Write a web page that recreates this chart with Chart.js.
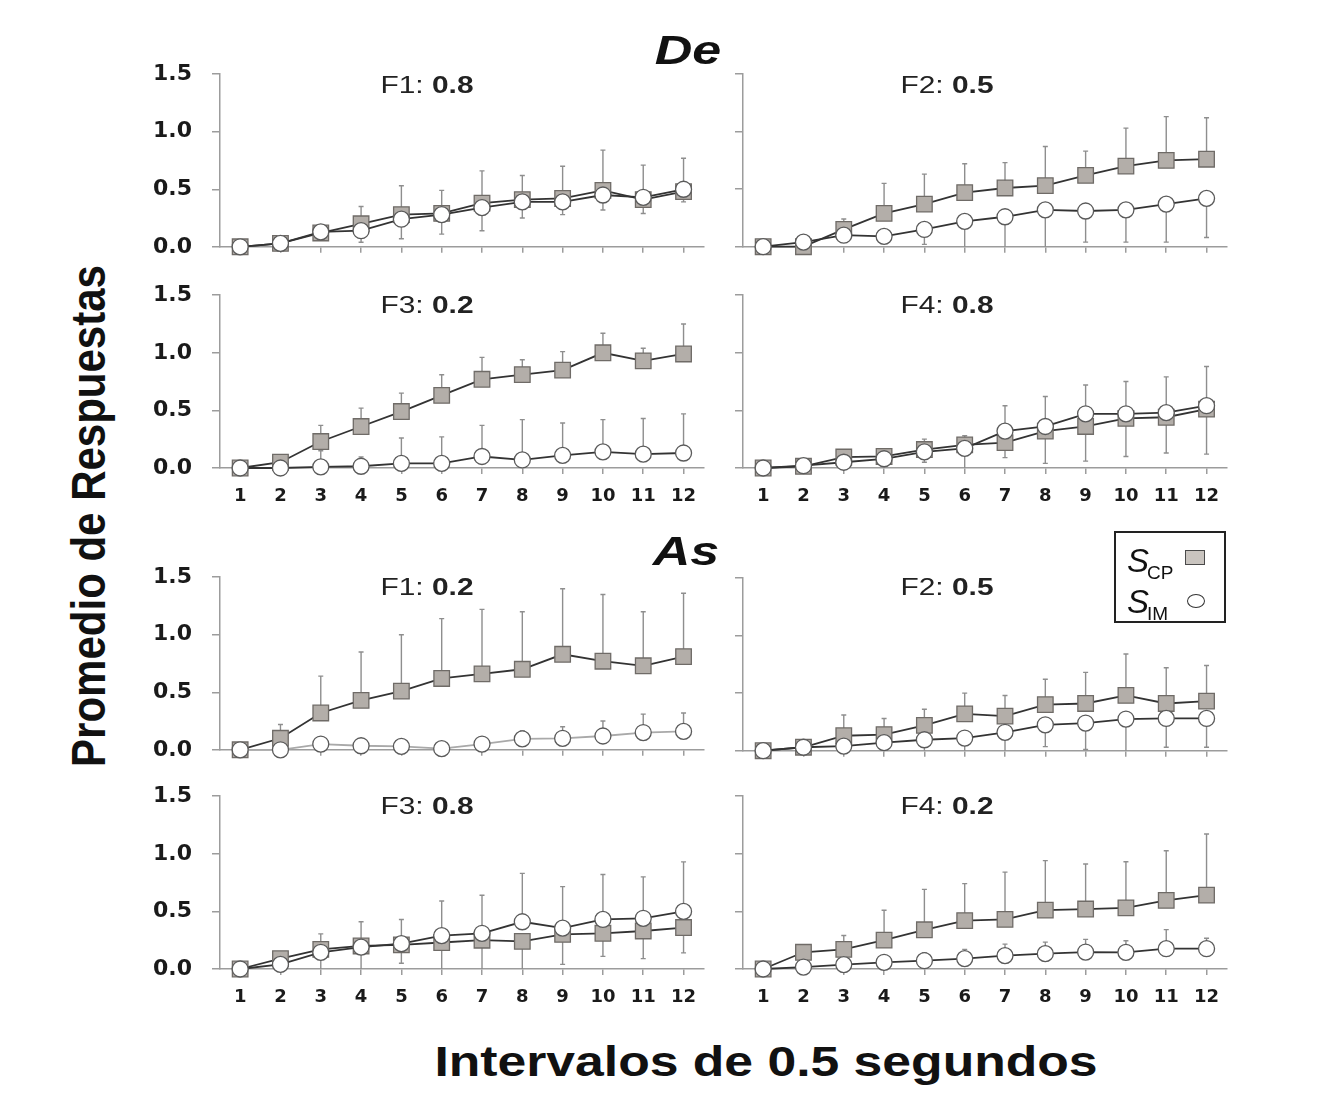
<!DOCTYPE html>
<html><head><meta charset="utf-8">
<script src="https://cdn.jsdelivr.net/npm/chart.js@4.4.1/dist/chart.umd.min.js"></script>
<style>
html,body{margin:0;padding:0;background:#fff;}
body{width:1320px;height:1109px;position:relative;overflow:hidden;font-family:"Liberation Sans",Arial,sans-serif;color:#1a1a1a;}
.pc{position:absolute;}
.txt{position:absolute;white-space:nowrap;line-height:1;}
.ptitle{font-size:23px;color:#222;}
.ptitle b{font-weight:bold;}
.grp{font-size:41px;font-weight:bold;font-style:italic;color:#111;}
.axt{font-size:42px;font-weight:bold;color:#111;}
#legend{position:absolute;left:1114px;top:531px;width:108px;height:88px;border:2px solid #222;background:#fff;}
.lgS{position:absolute;font-size:33px;font-style:italic;line-height:1;color:#111;}
.lgSub{position:absolute;font-size:19px;line-height:1;color:#111;}
</style></head><body>
<div id="root"></div>
<script>
// ---------- data ----------
const categories = ['1','2','3','4','5','6','7','8','9','10','11','12'];
const yTickValues = [0, 0.5, 1.0, 1.5];
const yTickLabels = ['0.0', '0.5', '1.0', '1.5'];
const groupTitles = ['De', 'As'];
const legendLabels = ['CP', 'IM'];

const deF1_title = ['F1:', '0.8'];
const deF1_scp    = [0, 0.03, 0.12, 0.20, 0.28, 0.29, 0.38, 0.41, 0.42, 0.49, 0.41, 0.48];
const deF1_scpErr = [0, 0, 0.03, 0.15, 0.25, 0.20, 0.28, 0.21, 0.28, 0.35, 0.30, 0.29];
const deF1_sim    = [0, 0.03, 0.13, 0.14, 0.24, 0.28, 0.34, 0.39, 0.39, 0.45, 0.43, 0.50];
const deF1_simErr = [0, 0, 0.03, 0.10, 0.17, 0.17, 0.20, 0.14, 0.11, 0.13, 0.14, 0.11];

const deF2_title = ['F2:', '0.5'];
const deF2_scp    = [0, 0, 0.15, 0.29, 0.37, 0.47, 0.51, 0.53, 0.62, 0.70, 0.75, 0.76];
const deF2_scpErr = [0, 0, 0.09, 0.26, 0.26, 0.25, 0.22, 0.34, 0.21, 0.33, 0.38, 0.36];
const deF2_sim    = [0, 0.04, 0.10, 0.09, 0.15, 0.22, 0.26, 0.32, 0.31, 0.32, 0.37, 0.42];
const deF2_simErr = [0, 0, 0.03, 0.05, 0.13, 0.22, 0.26, 0.32, 0.27, 0.28, 0.33, 0.34];

const deF3_title = ['F3:', '0.2'];
const deF3_scp    = [0, 0.05, 0.23, 0.36, 0.49, 0.63, 0.77, 0.81, 0.85, 1.00, 0.93, 0.99];
const deF3_scpErr = [0, 0, 0.14, 0.16, 0.16, 0.18, 0.19, 0.13, 0.16, 0.17, 0.11, 0.26];
const deF3_sim    = [0, 0, 0.01, 0.015, 0.04, 0.04, 0.10, 0.07, 0.11, 0.14, 0.12, 0.13];
const deF3_simErr = [0, 0, 0.14, 0.08, 0.22, 0.23, 0.27, 0.35, 0.28, 0.28, 0.31, 0.34];

const deF4_title = ['F4:', '0.8'];
const deF4_scp    = [0, 0.015, 0.095, 0.10, 0.16, 0.20, 0.22, 0.32, 0.36, 0.43, 0.44, 0.51];
const deF4_scpErr = [0, 0, 0, 0.03, 0.11, 0.20, 0.13, 0.28, 0.30, 0.33, 0.31, 0.39];
const deF4_sim    = [0, 0.02, 0.05, 0.08, 0.14, 0.17, 0.32, 0.36, 0.47, 0.47, 0.48, 0.54];
const deF4_simErr = [0, 0, 0, 0.03, 0.11, 0.11, 0.22, 0.26, 0.25, 0.28, 0.31, 0.34];

const asF1_title = ['F1:', '0.2'];
const asF1_scp    = [0, 0.10, 0.32, 0.43, 0.51, 0.62, 0.66, 0.70, 0.83, 0.77, 0.73, 0.81];
const asF1_scpErr = [0, 0.12, 0.32, 0.42, 0.49, 0.52, 0.56, 0.50, 0.57, 0.58, 0.47, 0.55];
const asF1_sim    = [0, 0, 0.05, 0.035, 0.03, 0.01, 0.05, 0.095, 0.10, 0.12, 0.15, 0.16];
const asF1_simErr = [0, 0, 0, 0, 0, 0, 0, 0.07, 0.10, 0.13, 0.16, 0.16];

const asF2_title = ['F2:', '0.5'];
const asF2_scp    = [0, 0.03, 0.13, 0.14, 0.22, 0.32, 0.30, 0.40, 0.41, 0.48, 0.41, 0.43];
const asF2_scpErr = [0, 0, 0.18, 0.14, 0.14, 0.18, 0.18, 0.22, 0.27, 0.36, 0.31, 0.31];
const asF2_sim    = [0, 0.03, 0.04, 0.07, 0.095, 0.11, 0.16, 0.225, 0.24, 0.275, 0.28, 0.28];
const asF2_simErr = [0, 0, 0.05, 0.08, 0.10, 0.11, 0.16, 0.19, 0.23, 0.28, 0.25, 0.25];

const asF3_title = ['F3:', '0.8'];
const asF3_scp    = [0, 0.09, 0.17, 0.20, 0.21, 0.23, 0.25, 0.24, 0.30, 0.31, 0.33, 0.36];
const asF3_scpErr = [0, 0, 0.17, 0.20, 0.16, 0.24, 0.25, 0.24, 0.26, 0.20, 0.24, 0.22];
const asF3_sim    = [0, 0.04, 0.145, 0.19, 0.22, 0.29, 0.31, 0.41, 0.355, 0.43, 0.44, 0.50];
const asF3_simErr = [0, 0, 0.16, 0.22, 0.21, 0.30, 0.33, 0.42, 0.36, 0.39, 0.36, 0.43];

const asF4_title = ['F4:', '0.2'];
const asF4_scp    = [0, 0.145, 0.17, 0.25, 0.34, 0.42, 0.43, 0.51, 0.52, 0.53, 0.595, 0.64];
const asF4_scpErr = [0, 0.065, 0.12, 0.26, 0.35, 0.32, 0.41, 0.43, 0.39, 0.40, 0.43, 0.53];
const asF4_sim    = [0, 0.017, 0.038, 0.058, 0.072, 0.09, 0.116, 0.133, 0.147, 0.145, 0.176, 0.176];
const asF4_simErr = [0, 0, 0, 0, 0.07, 0.08, 0.10, 0.10, 0.11, 0.10, 0.165, 0.09];

// error-bar direction per panel (+1 = up, -1 = down)
const panels = [
  {row:0, col:0, title:deF1_title, scp:deF1_scp, scpErr:deF1_scpErr, sim:deF1_sim, simErr:deF1_simErr, scpDir:1, simDir:-1},
  {row:0, col:1, title:deF2_title, scp:deF2_scp, scpErr:deF2_scpErr, sim:deF2_sim, simErr:deF2_simErr, scpDir:1, simDir:-1},
  {row:1, col:0, title:deF3_title, scp:deF3_scp, scpErr:deF3_scpErr, sim:deF3_sim, simErr:deF3_simErr, scpDir:1, simDir:1},
  {row:1, col:1, title:deF4_title, scp:deF4_scp, scpErr:deF4_scpErr, sim:deF4_sim, simErr:deF4_simErr, scpDir:-1, simDir:1},
  {row:2, col:0, title:asF1_title, scp:asF1_scp, scpErr:asF1_scpErr, sim:asF1_sim, simErr:asF1_simErr, scpDir:1, simDir:1, simLight:true},
  {row:2, col:1, title:asF2_title, scp:asF2_scp, scpErr:asF2_scpErr, sim:asF2_sim, simErr:asF2_simErr, scpDir:1, simDir:-1},
  {row:3, col:0, title:asF3_title, scp:asF3_scp, scpErr:asF3_scpErr, sim:asF3_sim, simErr:asF3_simErr, scpDir:-1, simDir:1},
  {row:3, col:1, title:asF4_title, scp:asF4_scp, scpErr:asF4_scpErr, sim:asF4_sim, simErr:asF4_simErr, scpDir:1, simDir:1}
];

// ---------- layout ----------
const axisX = [220, 743];
const rowTop = [74, 295, 577.5, 796];
const plotW = 484, plotH = 173;
const titleCX = [427, 947];
const titleCY = [85, 305, 587, 806];
const AXIS_COLOR = '#9c9c9c';
const TICK_FONT = 'DejaVu Sans';

const errPlugin = {
  id: 'errbars',
  beforeDatasetsDraw(chart) {
    const ctx = chart.ctx, ys = chart.scales.y;
    chart.data.datasets.forEach((ds, i) => {
      const meta = chart.getDatasetMeta(i);
      ds.err.forEach((e, j) => {
        if (!e) return;
        const pt = meta.data[j];
        const v = ds.data[j];
        let end = v + ds.errDir * e;
        end = Math.max(0, Math.min(1.5, end));
        const y0 = ys.getPixelForValue(v), y1 = ys.getPixelForValue(end);
        ctx.save();
        ctx.strokeStyle = '#8e8e8e';
        ctx.lineWidth = 1.4;
        ctx.beginPath();
        ctx.moveTo(pt.x, y0); ctx.lineTo(pt.x, y1);
        if (end > 0) { ctx.moveTo(pt.x - 2.5, y1); ctx.lineTo(pt.x + 2.5, y1); }
        ctx.stroke();
        ctx.restore();
      });
    });
  }
};

const root = document.getElementById('root');

function makePanel(p) {
  const showX = (p.row === 1 || p.row === 3);
  const showY = (p.col === 0);
  const yw = showY ? 80 : 20;
  const padTop = 16, padRight = 12;
  const xh = showX ? 46 : 12;
  let W = yw + plotW + padRight;
  let H = padTop + plotH + xh;
  const div = document.createElement('div');
  div.className = 'pc';
  div.style.left = (axisX[p.col] - yw) + 'px';
  div.style.top = (rowTop[p.row] - padTop) + 'px';
  const cv = document.createElement('canvas');
  cv.width = W; cv.height = H;
  cv.style.width = W + 'px'; cv.style.height = H + 'px';
  div.appendChild(cv);
  root.appendChild(div);

  const chart = new Chart(cv, {
    type: 'line',
    data: {
      labels: categories,
      datasets: [
        {
          label: 'SIM', data: p.sim, err: p.simErr, errDir: p.simDir,
          borderColor: p.simLight ? '#a9a9a9' : '#333333', borderWidth: 1.8,
          pointStyle: 'circle', pointRadius: 8, pointHoverRadius: 8,
          pointBackgroundColor: '#ffffff', pointBorderColor: '#5a5a5a', pointBorderWidth: 1.3,
          clip: false, tension: 0, fill: false
        },
        {
          label: 'SCP', data: p.scp, err: p.scpErr, errDir: p.scpDir,
          borderColor: '#333333', borderWidth: 1.8,
          pointStyle: 'rect', pointRadius: 11, pointHoverRadius: 11,
          pointBackgroundColor: '#b3aea9', pointBorderColor: '#6f6b67', pointBorderWidth: 1.3,
          clip: false, tension: 0, fill: false
        }
      ]
    },
    options: {
      responsive: false, maintainAspectRatio: false, animation: false, devicePixelRatio: 1,
      events: [],
      layout: { padding: { top: padTop, right: padRight, left: 0, bottom: 0 } },
      plugins: { legend: { display: false }, tooltip: { enabled: false }, title: { display: false } },
      scales: {
        x: {
          type: 'category', offset: true,
          grid: { display: true, drawOnChartArea: false, drawTicks: true, tickLength: 6, color: AXIS_COLOR, lineWidth: 1.5 },
          border: { display: true, color: AXIS_COLOR, width: 1.5 },
          ticks: { display: showX, autoSkip: false, maxRotation: 0, padding: 12, color: '#1a1a1a',
                   font: { family: TICK_FONT, size: 18, weight: 'bold' } },
          afterFit(s) { s.height = xh; }
        },
        y: {
          min: 0, max: 1.5,
          afterBuildTicks(s) { s.ticks = yTickValues.map(v => ({ value: v })); },
          grid: { display: true, drawOnChartArea: false, drawTicks: true, tickLength: 8, color: AXIS_COLOR, lineWidth: 1.5 },
          border: { display: true, color: AXIS_COLOR, width: 1.5 },
          ticks: { display: showY, padding: 20, color: '#1a1a1a',
                   font: { family: TICK_FONT, size: 22, weight: 'bold' },
                   callback: (v, i) => yTickLabels[i] },
          afterFit(s) { s.width = yw; }
        }
      }
    },
    plugins: [errPlugin]
  });

  // make the plot area exactly plotW x plotH, then align it
  for (let k = 0; k < 4; k++) {
    const ca = chart.chartArea;
    const dw = plotW - (ca.right - ca.left);
    const dh = plotH - (ca.bottom - ca.top);
    if (Math.abs(dw) < 0.5 && Math.abs(dh) < 0.5) break;
    W = Math.round(W + dw); H = Math.round(H + dh);
    chart.resize(W, H);
  }
  const ca = chart.chartArea;
  div.style.left = (axisX[p.col] - ca.left) + 'px';
  div.style.top = (rowTop[p.row] - ca.top) + 'px';

  // panel title
  const t = document.createElement('div');
  t.className = 'txt ptitle';
  t.innerHTML = p.title[0] + ' <b>' + p.title[1] + '</b>';
  t.style.left = titleCX[p.col] + 'px';
  t.style.top = titleCY[p.row] + 'px';
  t.style.transform = 'translate(-50%,-50%) scaleX(1.3)';
  root.appendChild(t);
}

panels.forEach(makePanel);

function addText(cls, text, x, y, transform) {
  const d = document.createElement('div');
  d.className = 'txt ' + cls;
  d.textContent = text;
  d.style.left = x + 'px';
  d.style.top = y + 'px';
  d.style.transform = transform;
  root.appendChild(d);
  return d;
}
addText('grp', groupTitles[0], 688, 50, 'translate(-50%,-50%) scaleX(1.27)');
addText('grp', groupTitles[1], 686, 551, 'translate(-50%,-50%) scaleX(1.27)');
addText('axt', 'Intervalos de 0.5 segundos', 766, 1062, 'translate(-50%,-50%) scaleX(1.23)');
addText('axt', 'Promedio de Respuestas', 89, 516, 'translate(-50%,-50%) rotate(-90deg) scaleY(1.15)');

// legend
const lg = document.createElement('div');
lg.id = 'legend';
lg.innerHTML =
  '<div class="lgS" style="left:11px;top:11px;">S</div>' +
  '<div class="lgSub" style="left:31px;top:30px;">' + legendLabels[0] + '</div>' +
  '<div class="lgS" style="left:11px;top:52px;">S</div>' +
  '<div class="lgSub" style="left:31px;top:71px;">' + legendLabels[1] + '</div>' +
  '<div style="position:absolute;left:69px;top:17px;width:18px;height:13px;background:#c9c4bf;border:1.5px solid #4a4a4a;"></div>' +
  '<div style="position:absolute;left:71px;top:61px;width:16px;height:12px;background:#fff;border:1.5px solid #333;border-radius:50%;"></div>';
root.appendChild(lg);
</script>
</body></html>
